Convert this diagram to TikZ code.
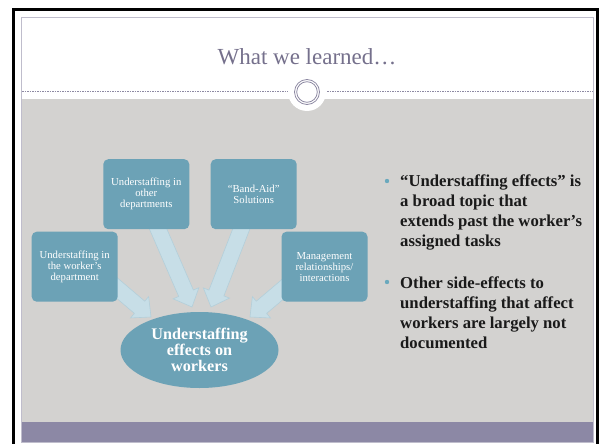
\documentclass[tikz,border=0pt]{standalone}
\usepackage{fontspec}
\setmainfont{Liberation Serif}
\usetikzlibrary{calc,shapes.geometric}

\definecolor{panelgrey}{HTML}{D3D2D0}
\definecolor{bandpurple}{HTML}{8C88A5}
\definecolor{framelav}{HTML}{BFBDCC}
\definecolor{rulecol}{HTML}{8E8AA3}
\definecolor{titlecol}{HTML}{75708C}
\definecolor{boxteal}{HTML}{6CA2B6}
\definecolor{arrowfill}{HTML}{C7DEE7}
\definecolor{arrowedge}{HTML}{B3CFDA}
\definecolor{bulletcol}{HTML}{6AA9BD}
\definecolor{bodytext}{HTML}{1A1A1A}

\pgfdeclarelayer{slide}
\pgfdeclarelayer{flow}
\pgfsetlayers{slide,flow,main}

\tikzset{
  topicbox/.style={rectangle, rounded corners=5pt, fill=boxteal, text=white,
    minimum width=86pt, minimum height=70pt, inner sep=0pt, align=center,
    font=\fontsize{10.7}{11}\selectfont},
  hub/.style={ellipse, fill=boxteal, text=white, minimum width=158pt,
    minimum height=76pt, inner sep=0pt, align=center,
    font=\fontsize{16.2}{16}\selectfont\bfseries},
  blockarrow/.style={fill=arrowfill, draw=arrowedge, line width=0.6pt, line join=miter},
  bulletdot/.style={circle, fill=bulletcol, inner sep=0pt, minimum size=4.4pt},
  bullettext/.style={anchor=base west, inner sep=0pt, align=left, text=bodytext,
    font=\fontsize{16.7}{20}\selectfont\bfseries}
}

% block arrow from #1 to #2 (shaft 16, head 28 wide, head 15 long)
\newcommand\bkarrow[2]{%
  \coordinate (#1h) at ($(#2)!15pt!(#1)$);
  \path[blockarrow]
    ($(#1)!8pt!90:(#2)$) -- ($(#1h)!8pt!-90:(#1)$) -- ($(#1h)!14pt!-90:(#1)$)
    -- (#2) -- ($(#1h)!14pt!90:(#1)$) -- ($(#1h)!8pt!90:(#1)$)
    -- ($(#1)!8pt!-90:(#2)$) -- cycle;
}

\begin{document}
\begin{tikzpicture}[x=1pt,y=-1pt]
\useasboundingbox (0,0) rectangle (602,444);
\clip (0,0) rectangle (602,444);

\begin{pgfonlayer}{slide}
\fill[white] (0,0) rectangle (602,444);
% slide frame
\draw[black, line width=3pt] (13.5,10) rectangle (597.5,470);
\fill[panelgrey] (22,99) rectangle (593,422);
\fill[bandpurple] (22,422) rectangle (593,442);
\draw[framelav, line width=1pt] (21.5,17.5) rectangle (593.5,442.5);
% title rule and badge
\draw[rulecol, line width=0.6pt, dash pattern=on 1.5pt off 1pt] (22,91.5) -- (593,91.5);
\fill[white] (307,92) circle (19);
\draw[rulecol, line width=0.8pt] (307,92) circle (12.5);
\draw[rulecol, line width=0.8pt] (307,92) circle (10.3);
\end{pgfonlayer}

\node[text=titlecol, font=\fontsize{23}{26}\selectfont, anchor=base] (title) at (307,65) {What we learned\ldots};

% hub
\node[hub] (E) at (199.5,350) {Understaffing\\effects on\\workers};

% topic boxes
\node[topicbox] (A) at (74.7,266.7) {Understaffing in\\the worker’s\\department};
\node[topicbox] (B) at (146.3,194.2) {Understaffing in\\other\\departments};
\node[topicbox] (C) at (253.7,194.2) {“Band-Aid”\\Solutions};
\node[topicbox] (D) at (324.5,266.7) {Management\\relationships/\\interactions};

% arrow ends
\coordinate (sA) at ($(A.center)+(23,5)$);
\coordinate (tA) at ($(E.center)+(-48.5,-33)$);
\coordinate (sB) at ($(B.center)+(8,26)$);
\coordinate (tB) at ($(E.center)+(-7.5,-43)$);
\coordinate (sC) at ($(C.center)+(-9,26)$);
\coordinate (tC) at ($(E.center)+(11.5,-43)$);
\coordinate (sD) at ($(D.center)+(-21,5)$);
\coordinate (tD) at ($(E.center)+(50.5,-33)$);

\begin{pgfonlayer}{flow}
\bkarrow{sA}{tA}
\bkarrow{sB}{tB}
\bkarrow{sC}{tC}
\bkarrow{sD}{tD}
\end{pgfonlayer}

% bullets
\node[bulletdot] (d1) at (387,181) {};
\node[bullettext] (t1) at (400,246.7) {“Understaffing effects” is\\a broad topic that\\extends past the worker’s\\assigned tasks};
\node[bulletdot] (d2) at (387,282) {};
\node[bullettext] (t2) at (400,348) {Other side-effects to\\understaffing that affect\\workers are largely not\\documented};
\end{tikzpicture}
\end{document}
